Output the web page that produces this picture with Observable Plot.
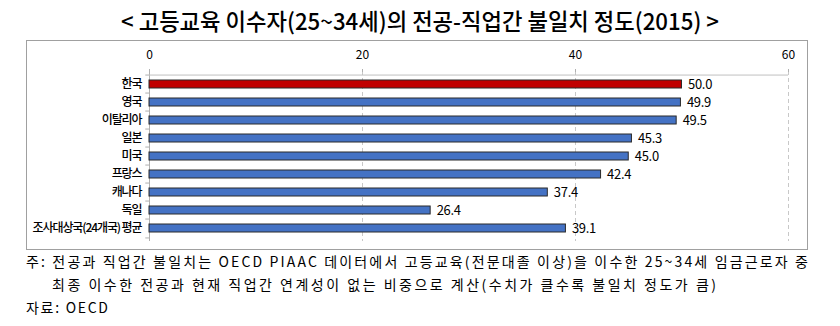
<!DOCTYPE html>
<html><head><meta charset="utf-8">
<script src="https://cdn.jsdelivr.net/npm/d3@7"></script>
<script src="https://cdn.jsdelivr.net/npm/@observablehq/plot@0.6"></script>
<style>
body{margin:0;background:#fff;width:840px;height:326px;overflow:hidden;position:relative;font-family:"Noto Sans CJK KR","Noto Sans",sans-serif;color:#000}
#title{position:absolute;left:0;top:0}
#box{position:absolute;left:26px;top:40px;width:780px;height:208px;border:1px solid #a0a0a0}
#box svg{display:block}
#box svg [aria-label="y-axis tick label"] text{letter-spacing:-1.1px;font-weight:500}
#box svg [aria-label="text"] text{letter-spacing:-0.3px}
#notes{position:absolute;left:0;top:250px}
</style></head>
<body>
<svg id="title" width="840" height="40"></svg>
<div id="box"></div>
<svg id="notes" width="840" height="76"></svg>
<script>
const titleText = "< 고등교육 이수자(25~34세)의 전공-직업간 불일치 정도(2015) >";
const countries = ["한국","영국","이탈리아","일본","미국","프랑스","캐나다","독일","조사대상국(24개국) 평균"];
const values = [50.0,49.9,49.5,45.3,45.0,42.4,37.4,26.4,39.1];
const highlight = "한국";
const xTicks = [0,20,40,60];
const noteLines = [
  "주: 전공과 직업간 불일치는 OECD PIAAC 데이터에서 고등교육(전문대졸 이상)을 이수한 25~34세 임금근로자 중",
  "최종 이수한 전공과 현재 직업간 연계성이 없는 비중으로 계산(수치가 클수록 불일치 정도가 큼)",
  "자료: OECD"
];

// title
d3.select("#title").append("text")
  .attr("x",121).attr("y",30)
  .attr("textLength",598).attr("lengthAdjust","spacingAndGlyphs")
  .attr("font-size",23).attr("font-weight",500).attr("fill","#000")
  .text(titleText);

// notes
const notePos = [{x:26,y:17,w:782},{x:52,y:40,w:664},{x:26,y:63,w:82}];
const ns = d3.select("#notes");
noteLines.forEach((t,i)=>{
  ns.append("text").attr("x",notePos[i].x).attr("y",notePos[i].y)
    .attr("font-size",14).attr("fill","#000")
    .attr("textLength",notePos[i].w).attr("lengthAdjust","spacing")
    .text(t);
});

const data = countries.map((c,i)=>({country:c, value:values[i]}));
const step = 170/9;
const chart = Plot.plot({
  width:780, height:208, marginLeft:122, marginRight:19, marginTop:30, marginBottom:8,
  style:{fontFamily:"'Noto Sans CJK KR', sans-serif", fontSize:"12px", color:"#000", background:"transparent"},
  x:{domain:[0,60], axis:null, label:null},
  y:{domain:countries, paddingInner:0.58, paddingOuter:0.29, axis:null, label:null},
  marks:[
    Plot.ruleX([20,40,60], {stroke:"#c8c8c8", strokeDasharray:"4,3"}),
    Plot.ruleX([0], {stroke:"#b0b0b0"}),
    Plot.ruleY([countries[0]], {x1:0, x2:60, dy:-step/2, stroke:"#c0c0c0"}),
    Plot.ruleY(countries, {x1:-0.35, x2:0, dy:-step/2, stroke:"#b0b0b0"}),
    Plot.ruleY([countries[countries.length-1]], {x1:-0.35, x2:0, dy:step/2, stroke:"#b0b0b0"}),
    Plot.barX(data.filter(d=>d.country!==highlight), {x:"value", y:"country", fill:"#4472C4", stroke:"#2a2a2a", strokeWidth:1}),
    Plot.barX(data.filter(d=>d.country===highlight), {x:"value", y:"country", fill:"#C00000", stroke:"#2a2a2a", strokeWidth:1}),
    Plot.text(data, {x:"value", y:"country", text:d=>d.value.toFixed(1), dx:6, textAnchor:"start", fontSize:13, fill:"#000"}),
    Plot.axisX(xTicks, {anchor:"top", tickSize:3, tickPadding:10, stroke:"#b0b0b0", fontSize:12, label:null}),
    Plot.axisY({tickSize:0, tickPadding:8, fontSize:12, label:null})
  ]
});
document.getElementById("box").appendChild(chart);
</script>
</body></html>
